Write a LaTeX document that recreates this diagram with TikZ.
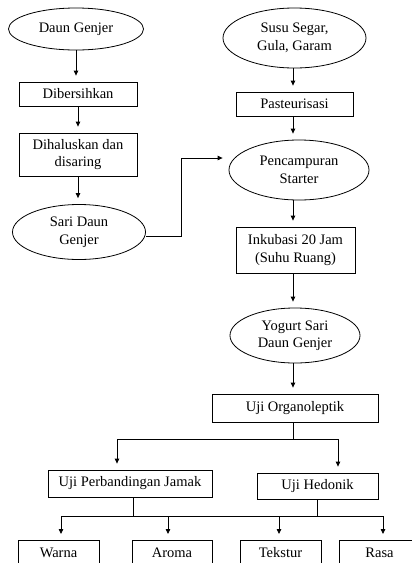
\documentclass[tikz,border=0pt]{standalone}
\usepackage{fontspec}
\setmainfont{Liberation Serif}
\usetikzlibrary{shapes.geometric,arrows.meta}
\begin{document}
\begin{tikzpicture}[x=1pt,y=-1pt,line width=0.8pt,
  every node/.style={font=\fontsize{14.5}{17.5}\selectfont, align=center, draw, line width=0.8pt, inner sep=1pt},
  oval/.style={ellipse},
  box/.style={rectangle},
  leaf/.style={rectangle, anchor=north, minimum width=81pt, text height=10pt, text depth=16pt, inner ysep=7pt},
  arr/.style={-{Triangle[length=5pt,width=4.5pt]}, shorten >=6pt}]
\useasboundingbox (0,0) rectangle (412,563);
\clip (0,0) rectangle (412,563);
% left column
\node[oval, minimum width=135pt, minimum height=42pt] (e1) at (76,29) {Daun Genjer};
\node[box, minimum width=118pt, minimum height=24pt] (b1) at (78,94) {Dibersihkan};
\node[box, minimum width=118pt, minimum height=43pt] (b2) at (78,154.5) {Dihaluskan dan\\disaring};
\node[oval, minimum width=133pt, minimum height=55pt] (e2) at (79,232) {Sari Daun\\Genjer};
% right column
\node[oval, minimum width=143pt, minimum height=60pt] (e3) at (294.5,38) {Susu Segar,\\Gula, Garam};
\node[box, minimum width=117pt, minimum height=24pt] (b3) at (294.5,104) {Pasteurisasi};
\node[oval, minimum width=140pt, minimum height=60pt] (e4) at (299,170) {Pencampuran\\Starter};
\node[box, minimum width=119pt, minimum height=46pt] (b4) at (295.5,250) {Inkubasi 20 Jam\\(Suhu Ruang)};
\node[oval, minimum width=130pt, minimum height=55pt] (e5) at (295,335.5) {Yogurt Sari\\Daun Genjer};
\node[box, minimum width=166pt, minimum height=28pt] (b5) at (295,408) {Uji Organoleptik};
\node[box, minimum width=164pt, minimum height=27pt] (b6) at (130,483.5) {Uji Perbandingan Jamak};
\node[box, minimum width=121pt, minimum height=26pt] (b7) at (317.5,486) {Uji Hedonik};
% leaves
\node[leaf] (w) at (58.5,540) {Warna};
\node[leaf, minimum width=80pt] (a) at (172,540) {Aroma};
\node[leaf] (t) at (280.5,540) {Tekstur};
\node[leaf] (r) at (379.5,540) {Rasa};
% connectors
\draw[arr] (e1.south) -- (e1.south |- b1.north);
\draw[arr] (b1.south) -- (b1.south |- b2.north);
\draw[arr] (b2.south) -- (b2.south |- e2.north);
\draw[arr] ([yshift=-4pt]e2.east) -- (181,236) |- ([yshift=12pt]e4.west);
\draw[arr] ([xshift=-1.5pt]e3.south) -- ([xshift=-1.5pt]e3.south |- b3.north);
\draw[arr] ([xshift=-1.5pt]b3.south) -- ([xshift=-1.5pt]b3.south |- e4.north);
\draw[arr] ([xshift=-6pt]e4.south) -- ([xshift=-6pt]e4.south |- b4.north);
\draw[arr] ([xshift=-2.5pt]b4.south) -- ([xshift=-2.5pt]b4.south |- e5.north);
\draw[arr] ([xshift=-2pt]e5.south) -- ([xshift=-2pt]e5.south |- b5.north);
\coordinate (j1) at (293,439);
\draw ([xshift=-2pt]b5.south) -- (j1);
\draw[arr] (j1) -| ([xshift=-13pt]b6.north);
\draw[arr] (j1) -| ([xshift=20.5pt]b7.north);
\coordinate (j2) at (133,516);
\coordinate (j3) at (317,516);
\draw ([xshift=3pt]b6.south) -- (j2);
\draw ([xshift=-0.5pt]b7.south) -- (j3);
\draw (j2) -- (j3);
\draw[arr] (j2) -| ([xshift=2.5pt]w.north);
\draw[arr] (j2) -| ([xshift=-4pt]a.north);
\draw[arr] (j3) -| ([xshift=-1.5pt]t.north);
\draw[arr] (j3) -| ([xshift=3.5pt]r.north);
\end{tikzpicture}
\end{document}
